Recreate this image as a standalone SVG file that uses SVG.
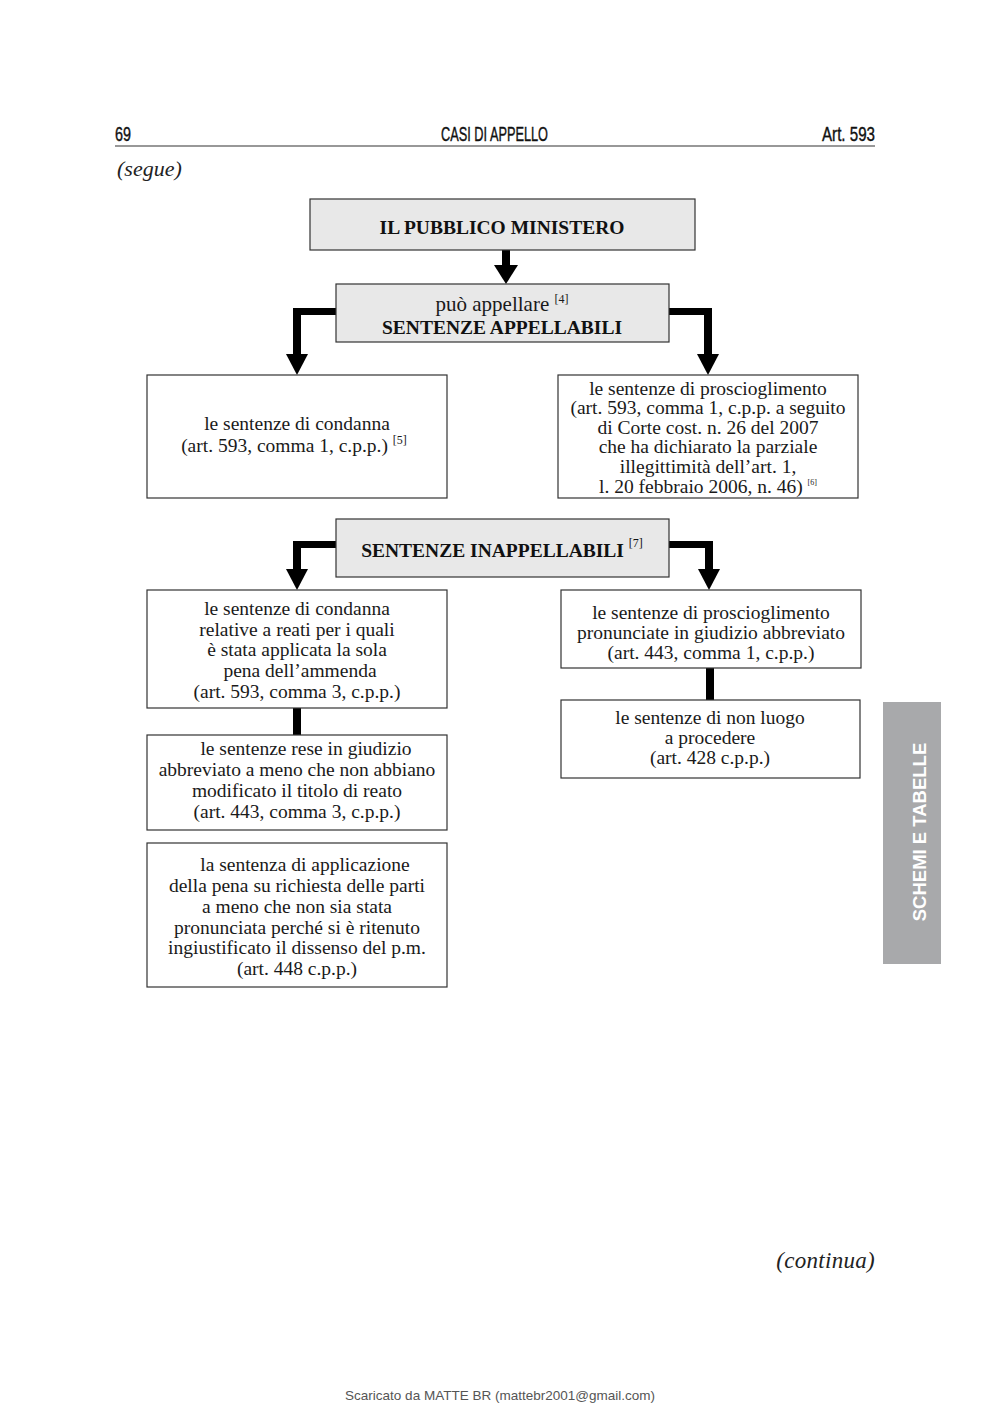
<svg xmlns="http://www.w3.org/2000/svg" width="1000" height="1415" viewBox="0 0 1000 1415">
<style>
.bg{fill:#ffffff}
.box{fill:#ffffff;stroke:#333333;stroke-width:1.2}
.gbox{fill:#e8e8e8;stroke:#333333;stroke-width:1.2}
.t{font-family:"Liberation Serif","Times New Roman",serif;font-size:19.5px;fill:#1a1a1a;text-anchor:middle}
.b{font-family:"Liberation Serif","Times New Roman",serif;font-size:19.5px;font-weight:bold;fill:#111111;text-anchor:middle}
.sup{font-size:12px}
.hdr{font-family:"Liberation Sans",Arial,sans-serif;font-size:20px;fill:#111111;stroke:#111111;stroke-width:0.4}
.it{font-family:"Liberation Serif","Times New Roman",serif;font-style:italic;font-size:22px;fill:#222222}
.bar{fill:#000000}
</style>
<rect class="bg" x="0" y="0" width="1000" height="1415"/>
<!-- header -->
<text class="hdr" x="115" y="141" textLength="16" lengthAdjust="spacingAndGlyphs">69</text>
<text class="hdr" x="441" y="141" textLength="107" lengthAdjust="spacingAndGlyphs">CASI DI APPELLO</text>
<text class="hdr" x="822" y="141" textLength="53" lengthAdjust="spacingAndGlyphs">Art. 593</text>
<line x1="115" y1="146" x2="875" y2="146" stroke="#333333" stroke-width="1.2"/>
<text class="it" x="117" y="176">(segue)</text>

<!-- connectors -->
<g id="connectors">
  <rect class="bar" x="502" y="250" width="8" height="16"/>
  <polygon class="bar" points="494,265 518,265 506,284"/>
  <polygon class="bar" points="336,308 293,308 293,355 301,355 301,315 336,315"/>
  <polygon class="bar" points="286,354 308,354 297,375"/>
  <polygon class="bar" points="669,308 712,308 712,355 704,355 704,315 669,315"/>
  <polygon class="bar" points="697,354 719,354 708,375"/>
  <polygon class="bar" points="336,541 293,541 293,570 301,570 301,548 336,548"/>
  <polygon class="bar" points="286,569 308,569 297,590"/>
  <polygon class="bar" points="669,541 713,541 713,570 705,570 705,548 669,548"/>
  <polygon class="bar" points="698,569 720,569 709,590"/>
  <rect class="bar" x="293" y="708" width="8" height="27"/>
  <rect class="bar" x="706" y="668" width="8" height="32"/>
</g>

<g id="n-pm">
  <rect class="gbox" x="310" y="199" width="385" height="51"/>
  <text class="b" x="502" y="234">IL PUBBLICO MINISTERO</text>
</g>
<g id="n-appellabili">
  <rect class="gbox" x="336" y="284" width="333" height="58"/>
  <text class="t" x="502" y="311" style="font-size:21px">può appellare <tspan class="sup" dy="-8">[4]</tspan></text>
  <text class="b" x="502" y="334">SENTENZE APPELLABILI</text>
</g>
<g id="n-condanna">
  <rect class="box" x="147" y="375" width="300" height="123"/>
  <text class="t" x="297" y="430">le sentenze di condanna</text>
  <text class="t" x="294" y="452">(art. 593, comma 1, c.p.p.) <tspan class="sup" dy="-8">[5]</tspan></text>
</g>
<g id="n-proscioglimento">
  <rect class="box" x="558" y="375" width="300" height="123"/>
  <text class="t" x="708" y="395">le sentenze di proscioglimento</text>
  <text class="t" x="708" y="414">(art. 593, comma 1, c.p.p. a seguito</text>
  <text class="t" x="708" y="434">di Corte cost. n. 26 del 2007</text>
  <text class="t" x="708" y="453">che ha dichiarato la parziale</text>
  <text class="t" x="708" y="473">illegittimità dell’art. 1,</text>
  <text class="t" x="708" y="493">l. 20 febbraio 2006, n. 46) <tspan class="sup" style="font-size:8px" dy="-8">[6]</tspan></text>
</g>
<g id="n-inappellabili">
  <rect class="gbox" x="336" y="519" width="333" height="58"/>
  <text class="b" x="502" y="557">SENTENZE INAPPELLABILI <tspan class="sup" style="font-weight:normal" dy="-10">[7]</tspan></text>
</g>
<g id="n-ammenda">
  <rect class="box" x="147" y="590" width="300" height="118"/>
  <text class="t" x="297" y="615">le sentenze di condanna</text>
  <text class="t" x="297" y="636">relative a reati per i quali</text>
  <text class="t" x="297" y="656">è stata applicata la sola</text>
  <text class="t" x="300" y="677">pena dell’ammenda</text>
  <text class="t" x="297" y="698">(art. 593, comma 3, c.p.p.)</text>
</g>
<g id="n-abbreviato">
  <rect class="box" x="147" y="735" width="300" height="95"/>
  <text class="t" x="306" y="755">le  sentenze rese in giudizio</text>
  <text class="t" x="297" y="776">abbreviato a meno che non abbiano</text>
  <text class="t" x="297" y="797">modificato  il titolo di reato</text>
  <text class="t" x="297" y="818">(art. 443, comma 3,  c.p.p.)</text>
</g>
<g id="n-patteggiamento">
  <rect class="box" x="147" y="843" width="300" height="144"/>
  <text class="t" x="305" y="871">la  sentenza di applicazione</text>
  <text class="t" x="297" y="892">della pena su richiesta delle parti</text>
  <text class="t" x="297" y="913">a meno che non sia stata</text>
  <text class="t" x="297" y="934">pronunciata perché si è ritenuto</text>
  <text class="t" x="297" y="954">ingiustificato il dissenso del p.m.</text>
  <text class="t" x="297" y="975">(art. 448 c.p.p.)</text>
</g>
<g id="n-proscioglimento-abbr">
  <rect class="box" x="561" y="590" width="300" height="78"/>
  <text class="t" x="711" y="619">le sentenze di proscioglimento</text>
  <text class="t" x="711" y="639">pronunciate in giudizio abbreviato</text>
  <text class="t" x="711" y="659">(art. 443, comma 1, c.p.p.)</text>
</g>
<g id="n-nonluogo">
  <rect class="box" x="561" y="700" width="299" height="78"/>
  <text class="t" x="710" y="724">le sentenze di non luogo</text>
  <text class="t" x="710" y="744">a procedere</text>
  <text class="t" x="710" y="764">(art. 428 c.p.p.)</text>
</g>

<!-- side tab -->
<rect x="883" y="702" width="58" height="262" fill="#a8a9ab"/>
<text x="926" y="832" transform="rotate(-90 926 832)" font-family="'Liberation Sans',Arial,sans-serif" font-size="18.5" font-weight="bold" fill="#ffffff" text-anchor="middle">SCHEMI E TABELLE</text>

<text class="it" x="875" y="1268" text-anchor="end" style="font-size:23px;letter-spacing:0.3px">(continua)</text>
<text x="500" y="1400" font-family="'Liberation Sans',Arial,sans-serif" font-size="13.5" fill="#555555" text-anchor="middle">Scaricato da MATTE BR (mattebr2001@gmail.com)</text>
</svg>
